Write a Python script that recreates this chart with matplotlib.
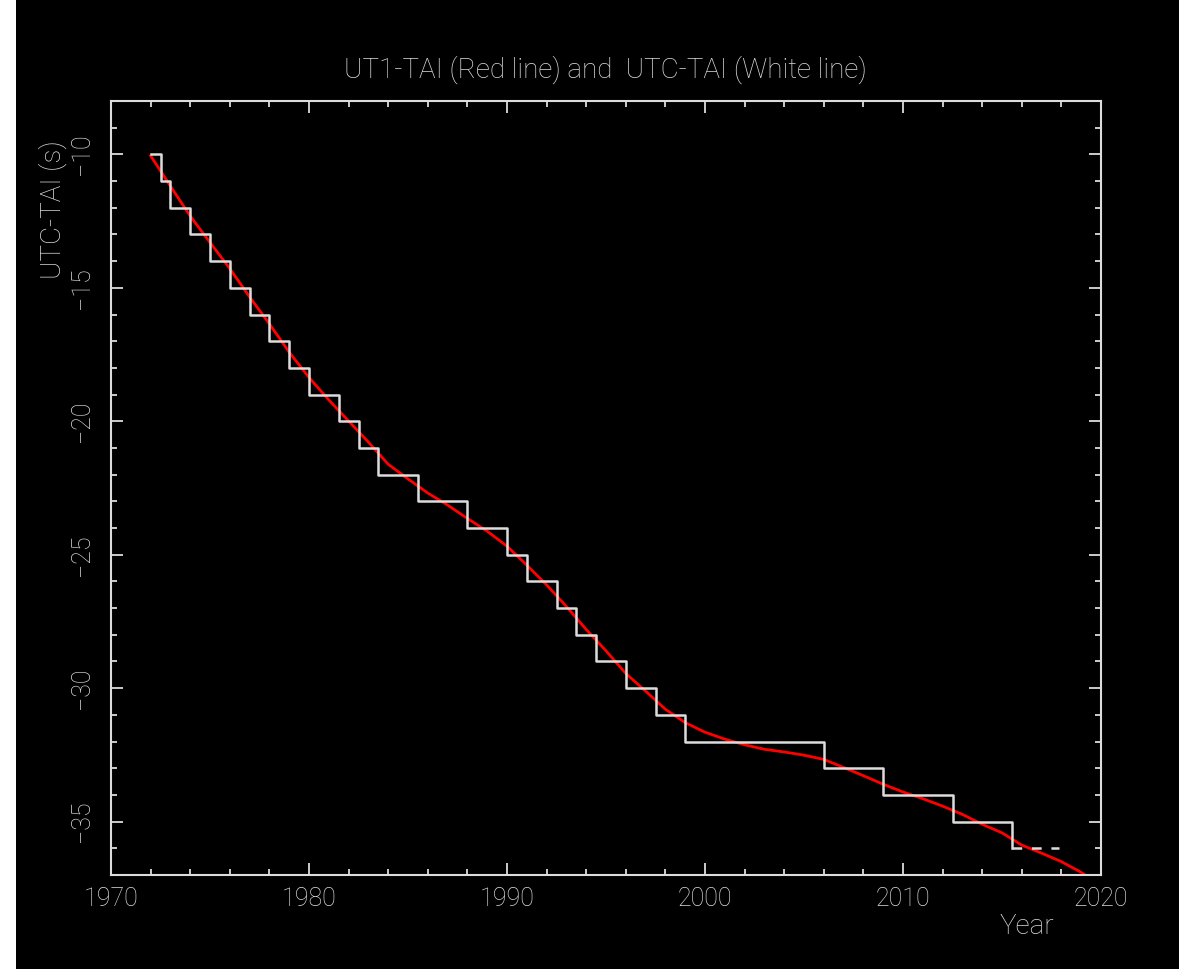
import numpy as np
import matplotlib
matplotlib.use('agg')
import matplotlib.pyplot as plt
from matplotlib.patches import Rectangle
from matplotlib.ticker import MultipleLocator

# UTC-TAI steps (leap second epochs)
leap_years = [1972.0, 1972.5, 1973.0, 1974.0, 1975.0, 1976.0, 1977.0, 1978.0,
              1979.0, 1980.0, 1981.5, 1982.5, 1983.5, 1985.5, 1988.0, 1990.0,
              1991.0, 1992.5, 1993.5, 1994.5, 1996.0, 1997.5, 1999.0, 2006.0,
              2009.0, 2012.5, 2015.5]
utc_tai = [-10, -11, -12, -13, -14, -15, -16, -17, -18, -19, -20, -21, -22,
           -23, -24, -25, -26, -27, -28, -29, -30, -31, -32, -33, -34, -35, -36]
# predicted part (dashed)
pred_years = [2015.5, 2017.9]
pred_utc_tai = [-36, -36]

# UT1-TAI
ut1_years = [1972, 1973, 1974, 1975, 1976, 1977, 1978, 1979, 1980, 1981,
             1982, 1983, 1984, 1985, 1986, 1987, 1988, 1989, 1990, 1991,
             1992, 1993, 1994, 1995, 1996, 1997, 1998, 1999, 2000, 2001,
             2002, 2003, 2004, 2005, 2006, 2007, 2008, 2009, 2010, 2011,
             2012, 2013, 2014, 2015, 2016, 2017, 2018, 2019, 2019.2]
ut1_tai = [-10.05, -11.19, -12.31, -13.30, -14.28, -15.34, -16.35, -17.41,
           -18.36, -19.20, -19.99, -20.78, -21.61, -22.16, -22.69, -23.14,
           -23.64, -24.12, -24.68, -25.39, -26.13, -26.94, -27.80, -28.60,
           -29.45, -30.11, -30.79, -31.29, -31.65, -31.91, -32.12, -32.29,
           -32.39, -32.51, -32.67, -32.97, -33.28, -33.60, -33.89, -34.14,
           -34.42, -34.73, -35.10, -35.42, -35.88, -36.18, -36.50, -36.90,
           -37.00]

fg = '#dcdcdc'
font = ['Roboto', 'DejaVu Sans']
fs = 20
tfs = 18
plt.rcParams['font.family'] = font
plt.rcParams['font.weight'] = 'light'
plt.rcParams['lines.scale_dashes'] = False

fig = plt.figure(figsize=(11.79, 9.69), dpi=100)
fig.patch.set_facecolor('white')
fig.patches.append(Rectangle((16 / 1179., 0), 1.0, 1.0, transform=fig.transFigure,
                             facecolor='black', edgecolor='none', zorder=-10))

ax = fig.add_axes([111 / 1179., 94 / 969., 990 / 1179., 774 / 969.])
ax.set_facecolor('black')

ax.plot(ut1_years, ut1_tai, color='#ff0000', lw=2.0, zorder=2)
ax.plot(leap_years, utc_tai, color=fg, lw=1.8, drawstyle='steps-post', zorder=3)
ax.plot(pred_years, pred_utc_tai, color=fg, lw=1.8, dashes=(7, 7), zorder=3)

ax.set_xlim(1970, 2020)
ax.set_ylim(-37.0, -8.0)
ax.xaxis.set_major_locator(MultipleLocator(10))
ax.xaxis.set_minor_locator(MultipleLocator(2))
ax.yaxis.set_major_locator(MultipleLocator(5))
ax.yaxis.set_minor_locator(MultipleLocator(1))

for s in ax.spines.values():
    s.set_color(fg)
    s.set_linewidth(1.5)
ax.tick_params(which='both', direction='in', top=True, right=True, color=fg,
               labelcolor=fg, labelsize=tfs, width=1.3)
ax.tick_params(which='major', length=8.6)
ax.tick_params(which='minor', length=4.5)
ax.tick_params(axis='x', pad=9)
ax.tick_params(axis='y', pad=12, labelrotation=90)
for lab in ax.get_yticklabels():
    lab.set_va('center')

fig.text(605 / 1179., 1 - 70 / 969., 'UT1-TAI (Red line) and  UTC-TAI (White line)',
         color=fg, fontsize=fs, ha='center', va='center')
fig.text(53 / 1179., 1 - 140 / 969., 'UTC-TAI (s)', color=fg, fontsize=fs,
         rotation=90, ha='center', va='top')
fig.text(1027 / 1179., 1 - 926 / 969., 'Year', color=fg, fontsize=fs,
         ha='center', va='center')

fig.savefig('out.png', dpi=100, facecolor=fig.get_facecolor())
